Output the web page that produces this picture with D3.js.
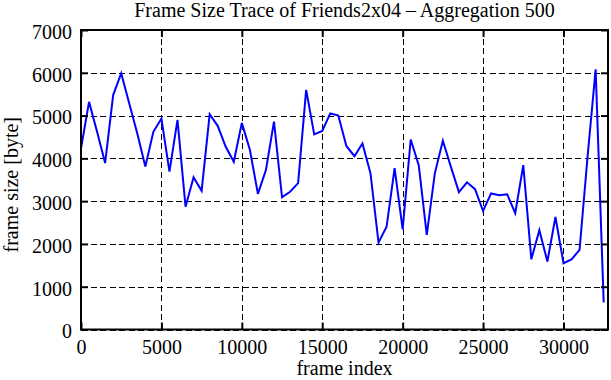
<!DOCTYPE html>
<html>
<head>
<meta charset="utf-8">
<script src="https://cdn.jsdelivr.net/npm/d3@7"></script>
<style>
  body { margin: 0; background: #fff; }
  text { font-family: "Liberation Serif", "DejaVu Serif", serif; }
</style>
</head>
<body>
<div id="vis"></div>
<script>
// frame index of each aggregated sample (every 500 frames)
const frames = d3.range(0, 33000, 500);
// mean frame size in bytes
const sizes = [
    4230, 5320, 4620, 3890, 5480, 5990, 5280, 4580, 3810, 4620,
    4930, 3690, 4900, 2870, 3560, 3240, 5030, 4760, 4270, 3920,
    4830, 4200, 3170, 3730, 4860, 3090, 3220, 3420, 5600, 4560,
    4640, 5050, 5000, 4290, 4050, 4350, 3650, 2030, 2400, 3770,
    2340, 4440, 3840, 2210, 3650, 4410, 3800, 3210, 3440, 3280,
    2770, 3180, 3140, 3160, 2720, 3840, 1640, 2320, 1590, 2630,
    1550, 1640, 1860, 4050, 6080, 630
];
const xTicks = [0, 5000, 10000, 15000, 20000, 25000, 30000];
const yTicks = [0, 1000, 2000, 3000, 4000, 5000, 6000, 7000];
const xMax = 32768;
const yMax = 7000;

const title = 'Frame Size Trace of Friends2x04 \u2013 Aggregation 500';
const xTitle = 'frame index';
const yTitle = 'frame size [byte]';

const data = frames.map((f, i) => ({ frame: f, size: sizes[i] }));

const fontFamily = '"Liberation Serif", "DejaVu Serif", serif';

let dimensions = {
    width: 611,
    height: 380,
    margin: { top: 30, right: 3, bottom: 50.5, left: 81 }
};
dimensions.boundedWidth = dimensions.width - dimensions.margin.left - dimensions.margin.right;
dimensions.boundedHeight = dimensions.height - dimensions.margin.top - dimensions.margin.bottom;

const svg = d3.select('#vis')
    .append('svg')
    .attr('width', dimensions.width)
    .attr('height', dimensions.height)
    .attr('font-family', fontFamily);

const bounds = svg.append('g')
    .attr('transform', `translate(${dimensions.margin.left},${dimensions.margin.top})`);

const xScale = d3.scaleLinear()
    .domain([0, xMax])
    .range([0, dimensions.boundedWidth]);

const yScale = d3.scaleLinear()
    .domain([0, yMax])
    .range([dimensions.boundedHeight, 0]);

const fmt = d3.format('d');

// dashed grid
const xGrid = bounds.append('g')
    .attr('transform', `translate(0,${dimensions.boundedHeight})`)
    .call(d3.axisBottom(xScale).tickValues(xTicks).tickSize(-dimensions.boundedHeight).tickFormat(''));
const yGrid = bounds.append('g')
    .call(d3.axisLeft(yScale).tickValues(yTicks).tickSize(-dimensions.boundedWidth).tickFormat(''));
[xGrid, yGrid].forEach(g => {
    g.select('.domain').remove();
    g.selectAll('line')
        .attr('stroke', '#000')
        .attr('stroke-width', 1)
        .attr('stroke-dasharray', '6,3.5')
        .attr('shape-rendering', 'crispEdges');
});

// the trace
const line = d3.line()
    .x(d => xScale(d.frame))
    .y(d => yScale(d.size));

bounds.append('path')
    .datum(data)
    .attr('d', line)
    .attr('fill', 'none')
    .attr('stroke', '#0000ff')
    .attr('stroke-width', 2)
    .attr('stroke-linejoin', 'miter');

// axes with inward ticks on all four sides
const xAxis = bounds.append('g')
    .attr('transform', `translate(0,${dimensions.boundedHeight})`)
    .call(d3.axisBottom(xScale).tickValues(xTicks).tickFormat(fmt).tickSizeInner(-7).tickSizeOuter(0).tickPadding(10));
const xAxisTop = bounds.append('g')
    .call(d3.axisTop(xScale).tickValues(xTicks).tickSizeInner(-7).tickSizeOuter(0).tickFormat(''));
const yAxis = bounds.append('g')
    .call(d3.axisLeft(yScale).tickValues(yTicks).tickFormat(fmt).tickSizeInner(-7).tickSizeOuter(0).tickPadding(9));
const yAxisRight = bounds.append('g')
    .attr('transform', `translate(${dimensions.boundedWidth},0)`)
    .call(d3.axisRight(yScale).tickValues(yTicks).tickSizeInner(-7).tickSizeOuter(0).tickFormat(''));

[xAxis, xAxisTop, yAxis, yAxisRight].forEach(g => {
    g.attr('font-family', fontFamily).attr('font-size', 20);
    g.select('.domain').remove();
    g.selectAll('line').attr('stroke', '#000').attr('stroke-width', 2);
    g.selectAll('text').attr('fill', '#000');
});
yAxis.selectAll('text').attr('dy', '0.42em');

bounds.append('rect')
    .attr('width', dimensions.boundedWidth)
    .attr('height', dimensions.boundedHeight)
    .attr('fill', 'none')
    .attr('stroke', '#000')
    .attr('stroke-width', 2);

// labels
svg.append('text')
    .attr('x', dimensions.margin.left + dimensions.boundedWidth / 2)
    .attr('y', 17)
    .attr('text-anchor', 'middle')
    .attr('font-size', 20)
    .text(title);

svg.append('text')
    .attr('x', dimensions.margin.left + dimensions.boundedWidth / 2)
    .attr('y', 375)
    .attr('text-anchor', 'middle')
    .attr('font-size', 20)
    .text(xTitle);

svg.append('text')
    .attr('transform', `translate(18,${dimensions.margin.top + dimensions.boundedHeight / 2 + 5}) rotate(-90)`)
    .attr('text-anchor', 'middle')
    .attr('font-size', 20)
    .text(yTitle);
</script>
</body>
</html>
